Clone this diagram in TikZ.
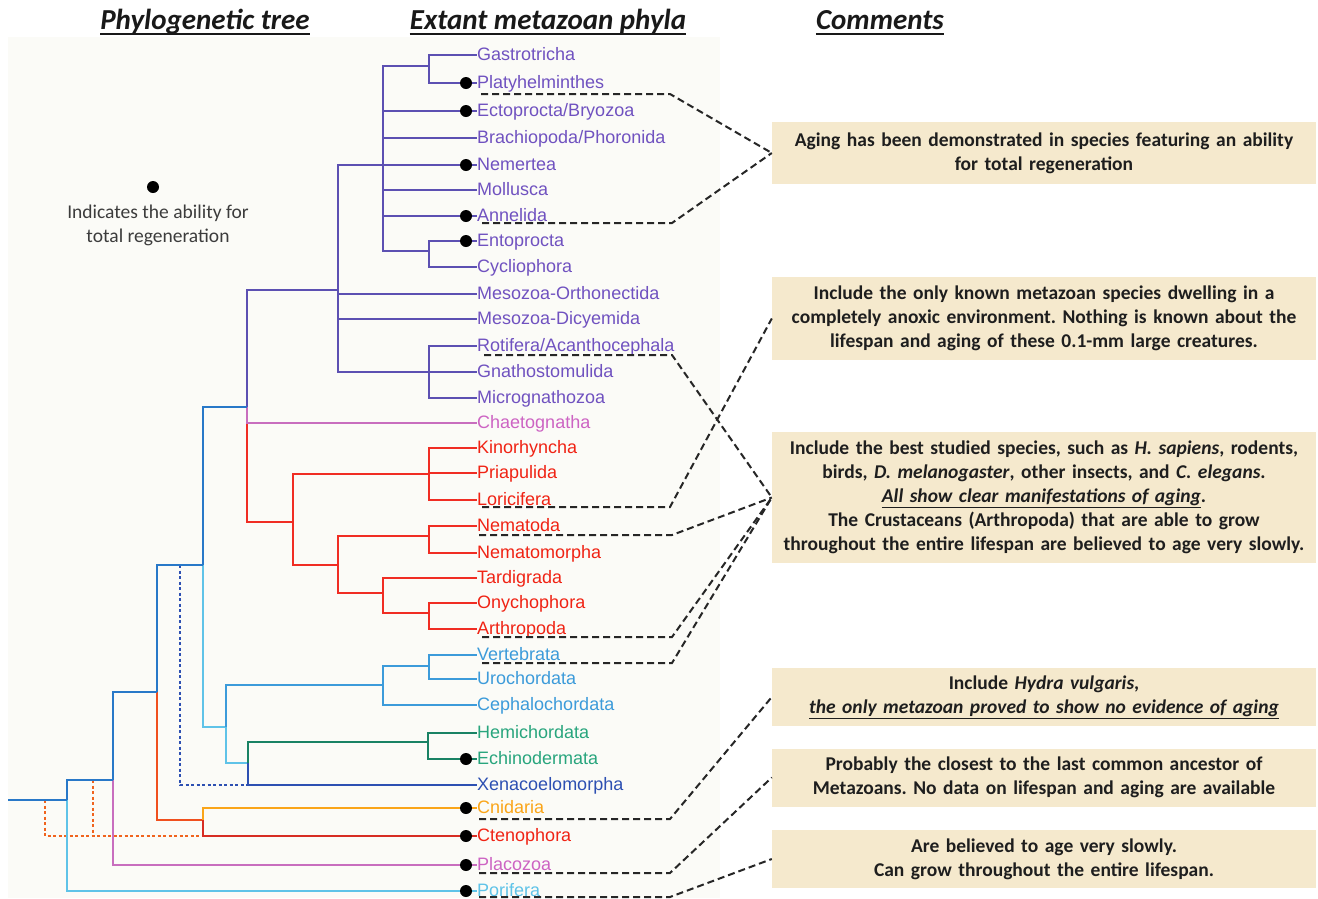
\documentclass[tikz,border=0pt]{standalone}
\usepackage{fontspec}
\setmainfont{Carlito}
\newfontfamily\labfont{Liberation Sans}
\usetikzlibrary{calc}
\frenchspacing
\definecolor{panelC}{RGB}{251,251,247}
\definecolor{boxC}{RGB}{245,233,205}
\definecolor{txtC}{RGB}{30,30,30}
\definecolor{legC}{RGB}{60,60,60}
\definecolor{purL}{RGB}{92,80,178}
\definecolor{purT}{RGB}{112,82,192}
\definecolor{pinkC}{RGB}{200,110,190}
\definecolor{pinkT}{RGB}{205,100,195}
\definecolor{redC}{RGB}{240,45,35}
\definecolor{redT}{RGB}{240,35,20}
\definecolor{blueM}{RGB}{40,120,200}
\definecolor{lblueC}{RGB}{95,195,232}
\definecolor{chordC}{RGB}{60,155,218}
\definecolor{greenC}{RGB}{25,130,100}
\definecolor{greenT}{RGB}{40,165,125}
\definecolor{xenoC}{RGB}{45,80,178}
\definecolor{orangeC}{RGB}{250,165,25}
\definecolor{ctenoC}{RGB}{215,45,35}
\definecolor{redorC}{RGB}{240,80,30}
\definecolor{dotorC}{RGB}{240,100,30}
\begin{document}
\begin{tikzpicture}[x=1pt,y=-1pt,
  tl/.style={line width=2.5pt},
  leaf/.style={font=\labfont\fontsize{18}{20}\selectfont, anchor=west, inner sep=0pt, text height=13pt, text depth=3pt},
  dot/.style={circle, fill=black, inner sep=0pt, minimum size=12pt},
  conn/.style={line width=2pt, dash pattern=on 7pt off 4pt, black!85},
  box/.style={fill=boxC, text width=544pt, inner xsep=0pt, inner ysep=0pt, align=center,
    font=\bfseries\fontsize{19.5}{24}\selectfont, text=txtC},
  hdr/.style={font=\bfseries\itshape\fontsize{29}{31}\selectfont, anchor=base, inner sep=0pt, text=black!90},
  ul/.style={line width=2pt, black!90}]
\useasboundingbox (0,0) rectangle (1318,898);
\fill[white] (0,0) rectangle (1318,898);
\fill[panelC] (8,37) rectangle (720,898);

% headers
\node[hdr] (h1) at (205,29) {Phylogenetic tree};
\node[hdr] (h2) at (548,29) {Extant metazoan phyla};
\node[hdr] (h3) at (880,29) {Comments};
\foreach \h in {h1,h2,h3}{\draw[ul] ($(\h.base west)+(0,4.5)$) -- ($(\h.base east)+(0,4.5)$);}

% legend
\node[dot] (legdot) at (153,187) {};
\node[align=center, text=legC, font=\fontsize{19.5}{24}\selectfont] (legtxt) at (158,225) {Indicates the ability for\\total regeneration};

% leaves
\node[leaf,text=purT] (L1) at (477,55) {Gastrotricha};
\node[leaf,text=purT] (L2) at (477,83) {Platyhelminthes};
\node[leaf,text=purT] (L3) at (477,111) {Ectoprocta/Bryozoa};
\node[leaf,text=purT] (L4) at (477,138) {Brachiopoda/Phoronida};
\node[leaf,text=purT] (L5) at (477,165) {Nemertea};
\node[leaf,text=purT] (L6) at (477,190) {Mollusca};
\node[leaf,text=purT] (L7) at (477,216) {Annelida};
\node[leaf,text=purT] (L8) at (477,241) {Entoprocta};
\node[leaf,text=purT] (L9) at (477,267) {Cycliophora};
\node[leaf,text=purT] (L10) at (477,294) {Mesozoa-Orthonectida};
\node[leaf,text=purT] (L11) at (477,319) {Mesozoa-Dicyemida};
\node[leaf,text=purT] (L12) at (477,346) {Rotifera/Acanthocephala};
\node[leaf,text=purT] (L13) at (477,372) {Gnathostomulida};
\node[leaf,text=purT] (L14) at (477,398) {Micrognathozoa};
\node[leaf,text=pinkT] (L15) at (477,423) {Chaetognatha};
\node[leaf,text=redT] (L16) at (477,448) {Kinorhyncha};
\node[leaf,text=redT] (L17) at (477,473) {Priapulida};
\node[leaf,text=redT] (L18) at (477,500) {Loricifera};
\node[leaf,text=redT] (L19) at (477,526) {Nematoda};
\node[leaf,text=redT] (L20) at (477,553) {Nematomorpha};
\node[leaf,text=redT] (L21) at (477,578) {Tardigrada};
\node[leaf,text=redT] (L22) at (477,603) {Onychophora};
\node[leaf,text=redT] (L23) at (477,629) {Arthropoda};
\node[leaf,text=chordC] (L24) at (477,655) {Vertebrata};
\node[leaf,text=chordC] (L25) at (477,679) {Urochordata};
\node[leaf,text=chordC] (L26) at (477,705) {Cephalochordata};
\node[leaf,text=greenT] (L27) at (477,733) {Hemichordata};
\node[leaf,text=greenT] (L28) at (477,759) {Echinodermata};
\node[leaf,text=xenoC] (L29) at (477,785) {Xenacoelomorpha};
\node[leaf,text=orangeC] (L30) at (477,808) {Cnidaria};
\node[leaf,text=redT] (L31) at (477,836) {Ctenophora};
\node[leaf,text=pinkT] (L32) at (477,865) {Placozoa};
\node[leaf,text=lblueC] (L33) at (477,891) {Porifera};

% internal nodes
\coordinate (a1) at (429,66);
\coordinate (a2) at (429,251);
\coordinate (a3) at (383,165);
\coordinate (a4) at (429,372);
\coordinate (a5) at (338,290);
\coordinate (pr) at (247,407);
\coordinate (e2) at (429,474);
\coordinate (e3) at (429,536);
\coordinate (e4) at (429,613);
\coordinate (e5) at (383,593);
\coordinate (e6) at (338,565);
\coordinate (e1) at (293,522);
\coordinate (bl1) at (203,565);
\coordinate (d1) at (226,727);
\coordinate (c1) at (383,685);
\coordinate (c2) at (429,666);
\coordinate (d2) at (248,763);
\coordinate (am) at (428,742);
\coordinate (bl2) at (157,692);
\coordinate (cn) at (203,820);
\coordinate (bl3) at (113,780);
\coordinate (r) at (67,800);
\coordinate (root) at (8,800);
\coordinate (xb) at (180,565);
\coordinate (o1) at (45,800);
\coordinate (o2) at (93,780);

% dotted alternative placements
\draw[line width=2.5pt, dash pattern=on 3pt off 2.5pt, xenoC] (xb) |- (d2 |- L29.west);
\draw[line width=2.5pt, dash pattern=on 3pt off 2.5pt, dotorC] (o1) |- (cn |- L31.west);
\draw[line width=2.5pt, dash pattern=on 3pt off 2.5pt, dotorC] (o2) -- (o2 |- L31.west);

% purple clade
\foreach \c in {L1,L2}{\draw[tl,purL] (a1) |- (\c.west);}
\foreach \c in {L8,L9}{\draw[tl,purL] (a2) |- (\c.west);}
\foreach \c in {L12,L13,L14}{\draw[tl,purL] (a4) |- (\c.west);}
\foreach \c in {L3,L4,L5,L6,L7}{\draw[tl,purL] (a3) |- (\c.west);}
\draw[tl,purL] (a3) |- (a1);
\draw[tl,purL] (a3) |- (a2);
\draw[tl,purL] (a5) |- (a3);
\draw[tl,purL] (a5) |- (L10.west);
\draw[tl,purL] (a5) |- (L11.west);
\draw[tl,purL] (a5) |- (a4);
% protostome node
\draw[tl,redC] (pr) |- (e1);
\draw[tl,pinkC] (pr) |- (L15.west);
\draw[tl,purL] (pr) |- (a5);
% ecdysozoa
\draw[tl,redC] (e1) |- (e2);
\draw[tl,redC] (e1) |- (e6);
\foreach \c in {L16,L17,L18}{\draw[tl,redC] (e2) |- (\c.west);}
\draw[tl,redC] (e6) |- (e3);
\draw[tl,redC] (e6) |- (e5);
\foreach \c in {L19,L20}{\draw[tl,redC] (e3) |- (\c.west);}
\draw[tl,redC] (e5) |- (L21.west);
\draw[tl,redC] (e5) |- (e4);
\foreach \c in {L22,L23}{\draw[tl,redC] (e4) |- (\c.west);}
% deuterostomes
\draw[tl,blueM] (bl1) |- (pr);
\draw[tl,lblueC] (bl1) |- (d1);
\draw[tl,chordC] (d1) |- (c1);
\draw[tl,lblueC] (d1) |- (d2);
\draw[tl,chordC] (c1) |- (c2);
\draw[tl,chordC] (c1) |- (L26.west);
\foreach \c in {L24,L25}{\draw[tl,chordC] (c2) |- (\c.west);}
\draw[tl,greenC] (d2) |- (am);
\draw[tl,xenoC] (d2) |- (L29.west);
\foreach \c in {L27,L28}{\draw[tl,greenC] (am) |- (\c.west);}
% basal
\draw[tl,blueM] (bl2) |- (bl1);
\draw[tl,redorC] (bl2) |- (cn);
\draw[tl,orangeC] (cn) |- (L30.west);
\draw[tl,ctenoC] (cn) |- (L31.west);
\draw[tl,blueM] (bl3) |- (bl2);
\draw[tl,pinkC] (bl3) |- (L32.west);
\draw[tl,blueM] (r) |- (bl3);
\draw[tl,lblueC] (r) |- (L33.west);
\draw[tl,blueM] (root) -- (r);

% regeneration dots
\foreach \c in {L2,L3,L5,L7,L8,L28,L30,L31,L32,L33}{\node[dot] (dt\c) at ($(\c.west)+(-11,0)$) {};}

% comment boxes
\node[box, minimum height=62pt] (b1) at (1044,153) {Aging has been demonstrated in species featuring an ability\\for total regeneration};
\node[box, minimum height=83pt] (b2) at (1044,318.5) {Include the only known metazoan species dwelling in a\\completely anoxic environment. Nothing is known about the\\lifespan and aging of these 0.1-mm large creatures.};
\node[box, minimum height=131pt] (b3) at (1044,497.5) {Include the best studied species, such as \textit{H. sapiens}, rodents,\\birds, \textit{D. melanogaster}, other insects, and \textit{C. elegans}.\\\underline{\textit{All show clear manifestations of aging}}.\\The Crustaceans (Arthropoda) that are able to grow\\throughout the entire lifespan are believed to age very slowly.};
\node[box, minimum height=58pt] (b4) at (1044,697) {Include \textit{Hydra vulgaris},\\\underline{\textit{the only metazoan proved to show no evidence of aging}}};
\node[box, minimum height=58pt] (b5) at (1044,777.5) {Probably the closest to the last common ancestor of\\Metazoans. No data on lifespan and aging are available};
\node[box, minimum height=58pt] (b6) at (1044,859) {Are believed to age very slowly.\\Can grow throughout the entire lifespan.};

% dashed connectors
\coordinate (u2a) at (481,94);  \coordinate (u2b) at (670,94);
\coordinate (u7a) at (482,223); \coordinate (u7b) at (672,223);
\coordinate (u12a) at (484,355); \coordinate (u12b) at (672,355);
\coordinate (u18a) at (482,507); \coordinate (u18b) at (670,507);
\coordinate (u19a) at (479,535); \coordinate (u19b) at (672,535);
\coordinate (u23a) at (482,637); \coordinate (u23b) at (672,637);
\coordinate (u24a) at (482,663); \coordinate (u24b) at (672,663);
\coordinate (u30a) at (479,819); \coordinate (u30b) at (670,819);
\coordinate (u32a) at (479,873); \coordinate (u32b) at (670,873);
\coordinate (u33a) at (479,897); \coordinate (u33b) at (670,897);
\draw[conn] (u2a) -- (u2b) -- (b1.west);
\draw[conn] (u7a) -- (u7b) -- (b1.west);
\draw[conn] (u12a) -- (u12b) -- (b3.west);
\draw[conn] (u18a) -- (u18b) -- (b2.west);
\draw[conn] (u19a) -- (u19b) -- (b3.west);
\draw[conn] (u23a) -- (u23b) -- (b3.west);
\draw[conn] (u24a) -- (u24b) -- (b3.west);
\draw[conn] (u30a) -- (u30b) -- (b4.west);
\draw[conn] (u32a) -- (u32b) -- (b5.west);
\draw[conn] (u33a) -- (u33b) -- (b6.west);
\end{tikzpicture}
\end{document}
